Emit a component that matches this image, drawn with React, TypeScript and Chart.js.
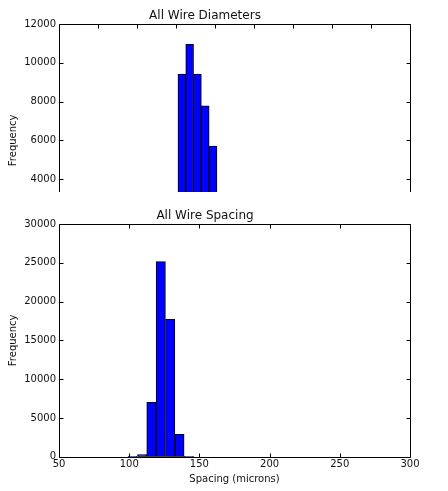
import React, { useEffect, useRef } from "react";
import { Chart, registerables } from "chart.js";

Chart.register(...registerables);

// Top histogram: All Wire Diameters (bin centers, counts)
const diameterBinCenters = [63, 67, 71, 75, 79];
const diameterCounts = [9420, 10950, 9420, 7780, 5710];
const diameterXTicks = [0, 20, 40, 60, 80, 100, 120, 140, 160, 180];
const diameterYTicks = [0, 2000, 4000, 6000, 8000, 10000, 12000];

// Bottom histogram: All Wire Spacing (bin centers, counts)
const spacingBinCenters = [102.5, 109.2, 115.8, 122.5, 129.2, 135.8, 142.5];
const spacingCounts = [40, 260, 7010, 25150, 17700, 2890, 40];
const spacingXTicks = [50, 100, 150, 200, 250, 300];
const spacingYTicks = [0, 5000, 10000, 15000, 20000, 25000, 30000];

const FONT = "'DejaVu Sans', 'Liberation Sans', sans-serif";
const TEXT = "#111";

const framePlugin = {
  id: "mplFrame",
  afterDatasetsDraw(chart: any) {
    const { ctx, chartArea, scales } = chart;
    const { left, right, top, bottom } = chartArea;
    const x = scales.x;
    const y = scales.y;
    ctx.save();
    ctx.strokeStyle = "#000";
    ctx.lineWidth = 1;
    const L = Math.round(left) + 0.5;
    const R = Math.round(right) + 0.5;
    const T = Math.round(top) + 0.5;
    const B = Math.round(bottom) + 0.5;
    ctx.beginPath();
    ctx.moveTo(L, B);
    ctx.lineTo(L, T);
    ctx.lineTo(R, T);
    ctx.lineTo(R, B);
    ctx.lineTo(L, B);
    ctx.stroke();
    const tl = 4;
    ctx.beginPath();
    x.ticks.forEach((t: any) => {
      const px = Math.round(x.getPixelForValue(t.value)) + 0.5;
      ctx.moveTo(px, B);
      ctx.lineTo(px, B - tl);
      ctx.moveTo(px, T);
      ctx.lineTo(px, T + tl);
    });
    y.ticks.forEach((t: any) => {
      const py = Math.round(y.getPixelForValue(t.value)) + 0.5;
      ctx.moveTo(L, py);
      ctx.lineTo(L + tl, py);
      ctx.moveTo(R, py);
      ctx.lineTo(R - tl, py);
    });
    ctx.stroke();
    ctx.restore();
  },
};

function makeConfig(
  title: string,
  centers: number[],
  counts: number[],
  xTicks: number[],
  yTicks: number[],
  xTitle: string
): any {
  const xMin = xTicks[0];
  const xMax = xTicks[xTicks.length - 1];
  const xStep = xTicks[1] - xTicks[0];
  const yMin = yTicks[0];
  const yMax = yTicks[yTicks.length - 1];
  const yStep = yTicks[1] - yTicks[0];
  return {
    type: "bar",
    data: {
      datasets: [
        {
          data: centers.map((c, i) => ({ x: c, y: counts[i] })),
          backgroundColor: "#0000ff",
          borderColor: "#000000",
          borderWidth: 1,
          borderSkipped: false,
          barPercentage: 1,
          categoryPercentage: 1,
        },
      ],
    },
    options: {
      animation: false,
      responsive: false,
      maintainAspectRatio: false,
      layout: { padding: { left: 0, right: 38, top: 0, bottom: 0 } },
      plugins: {
        legend: { display: false },
        tooltip: { enabled: false },
        title: {
          display: true,
          text: title,
          color: TEXT,
          font: { family: FONT, size: 12, weight: "normal" },
          padding: { top: 8.5, bottom: 1.1 },
        },
      },
      scales: {
        x: {
          type: "linear",
          min: xMin,
          max: xMax,
          offset: false,
          grid: { display: false, drawTicks: false },
          border: { display: false },
          ticks: {
            stepSize: xStep,
            color: TEXT,
            font: { family: FONT, size: 10 },
            padding: 2,
            maxRotation: 0,
            callback: (v: any) => String(v),
          },
          title: {
            display: true,
            text: xTitle,
            color: TEXT,
            font: { family: FONT, size: 10 },
            padding: { top: 1, bottom: 6 },
          },
          afterFit: (s: any) => {
            s.height = 34.3;
          },
        },
        y: {
          min: yMin,
          max: yMax,
          grid: { display: false, drawTicks: false },
          border: { display: false },
          ticks: {
            stepSize: yStep,
            color: TEXT,
            font: { family: FONT, size: 10 },
            padding: 3,
            callback: (v: any) => String(v),
          },
          title: {
            display: true,
            text: "Frequency",
            color: TEXT,
            font: { family: FONT, size: 10 },
            padding: { top: 7, bottom: 0 },
          },
          afterFit: (s: any) => {
            s.width = 59;
          },
        },
      },
    },
    plugins: [framePlugin],
  };
}

function Hist(props: {
  title: string;
  centers: number[];
  counts: number[];
  xTicks: number[];
  yTicks: number[];
  xTitle: string;
}) {
  const ref = useRef<HTMLCanvasElement | null>(null);
  useEffect(() => {
    if (!ref.current) return;
    const chart = new Chart(
      ref.current,
      makeConfig(props.title, props.centers, props.counts, props.xTicks, props.yTicks, props.xTitle)
    );
    return () => chart.destroy();
  }, []);
  return <canvas ref={ref} width={448} height={291} style={{ display: "block", width: 448, height: 291 }} />;
}

export default function App() {
  return (
    <div style={{ position: "absolute", left: 0, top: 0, width: 448, height: 491, background: "#fff", overflow: "hidden" }}>
      <div style={{ position: "absolute", left: 0, top: 0, width: 448, height: 192, overflow: "hidden" }}>
        <Hist
          title="All Wire Diameters"
          centers={diameterBinCenters}
          counts={diameterCounts}
          xTicks={diameterXTicks}
          yTicks={diameterYTicks}
          xTitle="Diameter (microns)"
        />
      </div>
      <div style={{ position: "absolute", left: 0, top: 200, width: 448, height: 291 }}>
        <Hist
          title="All Wire Spacing"
          centers={spacingBinCenters}
          counts={spacingCounts}
          xTicks={spacingXTicks}
          yTicks={spacingYTicks}
          xTitle="Spacing (microns)"
        />
      </div>
    </div>
  );
}
